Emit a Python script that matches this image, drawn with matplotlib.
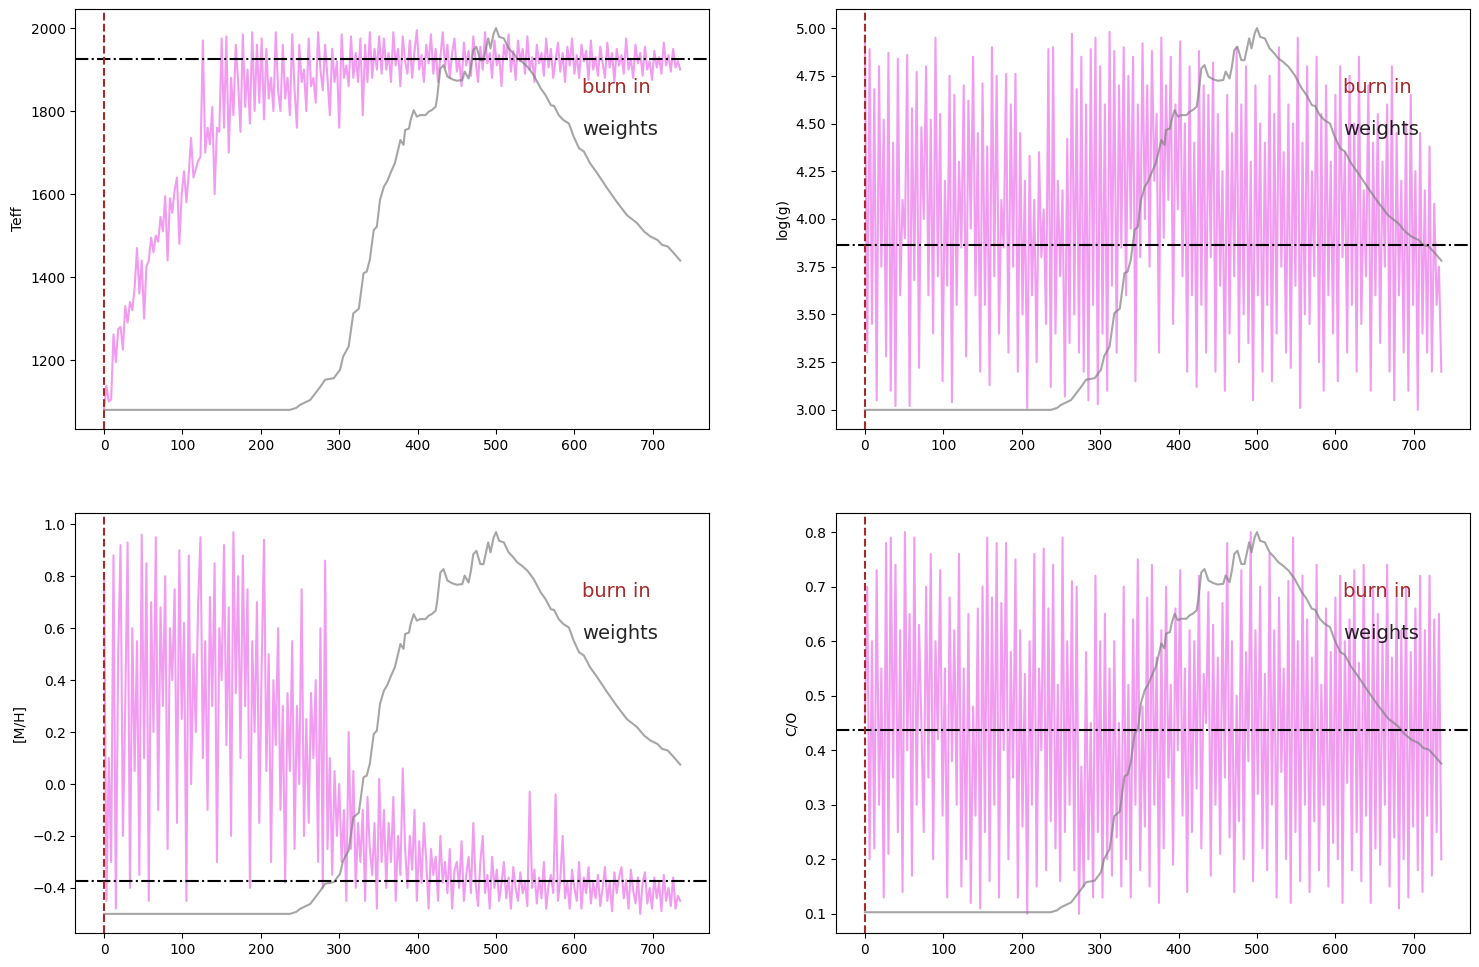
import matplotlib
matplotlib.use("Agg")
import matplotlib.pyplot as plt
import numpy as np

# chain samples, one every 3 steps
STEPS = np.arange(0, 736, 3)

TEFF = [
    1082, 1138, 1100, 1105, 1262, 1195, 1275, 1280, 1225, 1330,
    1290, 1340, 1320, 1375, 1470, 1360, 1440, 1300, 1425, 1440,
    1495, 1460, 1500, 1485, 1545, 1510, 1595, 1440, 1590, 1555,
    1610, 1640, 1480, 1600, 1655, 1580, 1650, 1735, 1640, 1660,
    1680, 1690, 1970, 1700, 1760, 1720, 1810, 1600, 1760, 1750,
    1975, 1760, 1980, 1700, 1880, 1790, 1960, 1870, 1750, 1985,
    1810, 1900, 1770, 1990, 1800, 1960, 1820, 1975, 1780, 1950,
    1830, 1880, 1800, 1990, 1850, 1800, 1960, 1830, 1880, 1790,
    1985, 1850, 1760, 1960, 1870, 1900, 1800, 1975, 1860, 1880,
    1820, 1990, 1900, 1850, 1960, 1880, 1790, 1950, 1870, 1920,
    1760, 1985, 1880, 1910, 1860, 1980, 1880, 1940, 1870, 1975,
    1790, 1960, 1870, 1990, 1880, 1950, 1900, 1980,
    1890, 1975, 1900, 1940, 1870, 1990, 1910, 1950, 1860, 1980,
    1920, 1890, 1970, 1880, 1945, 1995, 1900, 1935, 1870, 1960,
    1915, 1985, 1890, 1950, 1870, 1930, 1990, 1905, 1960, 1880,
    1940, 1975, 1895, 1925, 1860, 1965, 1910, 1945, 1885, 1980,
    1920, 1870, 1955, 1900, 1990, 1915, 1940, 1880, 1970, 1910,
    1935, 1860, 1960, 1925, 1985, 1895, 1945, 1875, 1970, 1920,
    1950, 1890, 1980, 1900, 1930, 1870, 1960, 1915, 1940, 1885,
    1975, 1905, 1950, 1880, 1925, 1965, 1895, 1940, 1870, 1955,
    1910, 1975, 1890, 1935, 1880, 1960, 1920, 1945, 1875, 1970,
    1900, 1930, 1885, 1955, 1915, 1880, 1965, 1905, 1940, 1870,
    1950, 1910, 1935, 1890, 1975, 1900, 1925, 1880, 1960, 1915,
    1940, 1885, 1955, 1900, 1920, 1875, 1945, 1905, 1930, 1890,
    1965, 1910, 1935, 1895, 1950, 1905, 1920, 1900,
]

LOGG = [
    4.96, 3.30, 4.89, 3.45, 4.68, 3.05, 4.80, 3.75, 4.52, 3.28,
    4.87, 3.10, 4.40, 3.02, 4.84, 3.60, 4.10, 3.90, 4.86, 3.02,
    4.58, 3.68, 4.77, 3.22, 4.48, 4.00, 4.80, 3.60, 4.52, 3.40,
    4.95, 3.70, 4.55, 3.15, 4.20, 3.65, 4.75, 3.04, 4.65, 3.55,
    4.30, 3.85, 4.70, 3.28, 4.62, 3.95, 4.85, 3.60, 4.45, 3.20,
    4.71, 3.55, 4.38, 3.13, 4.90, 3.70, 4.75, 3.40, 4.10, 3.85,
    4.76, 3.30, 4.60, 3.75, 4.76, 3.20, 4.45, 3.50, 4.20, 3.01,
    4.33, 3.60, 4.10, 3.25, 4.35, 3.80, 4.05, 3.45, 4.89, 3.12,
    4.90, 3.40, 4.20, 3.70, 4.15, 3.07, 4.42, 3.35, 4.97, 3.50,
    4.68, 3.30, 4.85, 3.20, 4.60, 3.05, 4.89, 3.55, 4.95, 3.03,
    4.80, 3.40, 4.60, 3.10, 4.98, 3.65, 4.88, 3.30, 4.70, 3.85,
    4.90, 3.60, 4.75, 3.95, 4.85, 3.15, 4.60, 3.80, 4.92, 4.00,
    4.70, 3.75, 4.88, 4.20, 4.55, 3.30, 4.95, 3.90, 4.70, 4.10,
    4.85, 3.45, 4.60, 4.05, 4.93, 3.70, 4.50, 3.20, 4.80, 3.60,
    4.40, 3.12, 4.88, 3.55, 4.70, 3.30, 4.65, 3.80, 4.82, 3.20,
    4.55, 3.65, 4.25, 3.10, 4.65, 3.40, 4.45, 3.70, 4.90, 3.25,
    4.60, 3.50, 4.80, 3.35, 4.30, 3.05, 4.70, 3.60, 4.50, 3.20,
    4.40, 3.55, 4.75, 3.15, 4.55, 3.40, 4.90, 3.75, 4.35, 3.30,
    4.60, 3.22, 4.50, 3.65, 4.95, 3.01, 4.40, 3.50, 4.80, 3.45,
    4.25, 3.70, 4.85, 3.25, 4.55, 3.10, 4.70, 3.60, 4.30, 3.40,
    4.65, 3.15, 4.80, 3.80, 4.35, 3.30, 4.75, 3.55, 4.50, 3.20,
    4.85, 3.45, 4.15, 3.70, 4.70, 3.10, 4.40, 3.60, 4.55, 3.35,
    4.30, 3.75, 4.60, 3.20, 4.80, 3.05, 4.45, 3.60, 4.20, 3.30,
    4.50, 3.10, 4.65, 3.55, 4.25, 3.00, 4.45, 3.40, 4.15, 3.30,
    4.38, 3.20, 4.08, 3.55, 3.75, 3.20,
]

METAL = [
    0.80, -0.45, 0.10, -0.30, 0.88, -0.48, 0.50, 0.92, -0.20, 0.30,
    0.93, -0.40, 0.60, 0.05, 0.55, -0.35, 0.96, 0.10, 0.85, -0.45,
    0.70, 0.20, 0.95, -0.10, 0.68, 0.30, 0.80, -0.25, 0.60, 0.40,
    0.75, -0.15, 0.90, 0.25, 0.62, -0.45, 0.88, 0.00, 0.50, 0.20,
    0.70, 0.95, 0.10, 0.55, -0.10, 0.72, 0.30, 0.85, -0.30, 0.60,
    0.40, 0.92, 0.15, 0.68, -0.20, 0.97, 0.35, 0.80, 0.10, 0.88,
    0.30, 0.75, -0.40, 0.55, 0.20, 0.70, -0.15, 0.45, 0.94, 0.05,
    0.50, -0.30, 0.40, 0.15, 0.60, -0.10, 0.30, -0.38, 0.35, 0.05,
    0.55, -0.25, 0.30, 0.00, 0.75, -0.20, 0.25, -0.15, 0.35, 0.10,
    0.40, -0.30, 0.60, -0.40, 0.86, -0.25, 0.10, -0.35, 0.05, -0.20,
    0.00, -0.30, -0.10, -0.45, 0.20, -0.25, 0.05, -0.40, -0.15, -0.30,
    -0.10, -0.45, -0.05, -0.25, -0.35, -0.15, -0.48, 0.02, -0.30, -0.10,
    -0.40, -0.15, -0.30, -0.05, -0.45, -0.20, -0.35, 0.06, -0.25, -0.40,
    -0.20, -0.33, -0.10, -0.45, -0.22, -0.38, -0.15, -0.30, -0.48, -0.25,
    -0.35, -0.28, -0.45, -0.20, -0.38, -0.30, -0.42, -0.25, -0.48, -0.33,
    -0.30, -0.40, -0.22, -0.45, -0.35, -0.28, -0.42, -0.15, -0.38, -0.47,
    -0.30, -0.20, -0.42, -0.35, -0.48, -0.28, -0.40, -0.33, -0.45, -0.38,
    -0.30, -0.44, -0.36, -0.48, -0.32, -0.40, -0.45, -0.34, -0.42, -0.38,
    -0.47, -0.03, -0.40, -0.33, -0.46, -0.36, -0.44, -0.30, -0.48, -0.39,
    -0.35, -0.42, -0.04, -0.45, -0.37, -0.20, -0.44, -0.38, -0.48, -0.33,
    -0.40, -0.45, -0.30, -0.48, -0.36, -0.42, -0.32, -0.46, -0.38, -0.44,
    -0.35, -0.47, -0.40, -0.32, -0.45, -0.38, -0.49, -0.34, -0.42, -0.36,
    -0.32, -0.44, -0.37, -0.48, -0.33, -0.41, -0.46, -0.36, -0.50, -0.38,
    -0.34, -0.46, -0.40, -0.48, -0.36, -0.44, -0.38, -0.49, -0.35, -0.45,
    -0.40, -0.47, -0.36, -0.48, -0.43, -0.45,
]

CO = [
    0.45, 0.70, 0.20, 0.60, 0.22, 0.73, 0.30, 0.55, 0.13, 0.78,
    0.21, 0.79, 0.35, 0.74, 0.25, 0.62, 0.14, 0.80, 0.40, 0.65,
    0.17, 0.79, 0.30, 0.63, 0.45, 0.25, 0.70, 0.35, 0.76, 0.20,
    0.60, 0.42, 0.73, 0.28, 0.55, 0.13, 0.68, 0.38, 0.62, 0.30,
    0.76, 0.15, 0.55, 0.20, 0.65, 0.12, 0.48, 0.28, 0.66, 0.11,
    0.70, 0.25, 0.79, 0.16, 0.68, 0.30, 0.78, 0.13, 0.67, 0.40,
    0.78, 0.20, 0.58, 0.35, 0.75, 0.13, 0.62, 0.26, 0.54, 0.10,
    0.60, 0.30, 0.76, 0.15, 0.55, 0.40, 0.77, 0.18, 0.66, 0.27,
    0.74, 0.22, 0.52, 0.16, 0.79, 0.25, 0.60, 0.30, 0.71, 0.18,
    0.70, 0.10, 0.37, 0.15, 0.58, 0.20, 0.45, 0.13, 0.72, 0.25,
    0.60, 0.13, 0.65, 0.20, 0.55, 0.17, 0.60, 0.24, 0.45, 0.15,
    0.70, 0.20, 0.52, 0.13, 0.64, 0.30, 0.75, 0.18, 0.48, 0.26,
    0.68, 0.15, 0.74, 0.30, 0.57, 0.12, 0.62, 0.22, 0.70, 0.35,
    0.52, 0.19, 0.66, 0.40, 0.73, 0.28, 0.55, 0.14, 0.62, 0.25,
    0.60, 0.33, 0.72, 0.22, 0.54, 0.45, 0.69, 0.17, 0.63, 0.30,
    0.57, 0.21, 0.67, 0.35, 0.78, 0.24, 0.60, 0.14, 0.50, 0.27,
    0.73, 0.20, 0.58, 0.38, 0.80, 0.16, 0.62, 0.32, 0.70, 0.22,
    0.54, 0.18, 0.76, 0.30, 0.62, 0.13, 0.68, 0.36, 0.55, 0.20,
    0.71, 0.12, 0.79, 0.25, 0.60, 0.16, 0.72, 0.30, 0.64, 0.14,
    0.57, 0.27, 0.74, 0.18, 0.52, 0.30, 0.66, 0.15, 0.58, 0.23,
    0.68, 0.20, 0.72, 0.12, 0.60, 0.34, 0.64, 0.18, 0.73, 0.25,
    0.56, 0.16, 0.74, 0.28, 0.62, 0.12, 0.70, 0.22, 0.65, 0.19,
    0.60, 0.30, 0.74, 0.15, 0.57, 0.24, 0.68, 0.11, 0.62, 0.20,
    0.70, 0.13, 0.58, 0.26, 0.66, 0.18, 0.72, 0.14, 0.62, 0.28,
    0.72, 0.17, 0.64, 0.25, 0.65, 0.20,
]

# sample weights (fraction of peak), same for every panel
WEIGHT_STEPS = [
    0, 237, 245, 250, 263, 276, 282, 293, 301, 305,
    312, 318, 325, 331, 335, 339, 344, 348, 352, 357,
    361, 367, 371, 376, 378, 382, 384, 389, 391, 395,
    399, 403, 410, 414, 418, 423, 425, 429, 433, 438,
    444, 450, 457, 460, 465, 468, 471, 475, 480, 484,
    490, 493, 497, 500, 504, 510, 516, 522, 527, 533,
    540, 548, 557, 563, 570, 574, 580, 586, 593, 599,
    606, 612, 620, 629, 642, 654, 667, 680, 689, 697,
    706, 712, 719, 727, 735,
]
WEIGHT_FRAC = [
    0.0, 0.0, 0.005, 0.013, 0.026, 0.061, 0.079, 0.083, 0.105, 0.14,
    0.166, 0.253, 0.265, 0.358, 0.362, 0.393, 0.471, 0.48, 0.55, 0.585,
    0.598, 0.628, 0.646, 0.689, 0.707, 0.694, 0.733, 0.737, 0.759, 0.785,
    0.768, 0.772, 0.772, 0.781, 0.785, 0.794, 0.82, 0.894, 0.903, 0.873,
    0.866, 0.862, 0.864, 0.886, 0.868, 0.899, 0.942, 0.951, 0.916, 0.916,
    0.973, 0.947, 0.986, 1.0, 0.977, 0.973, 0.947, 0.934, 0.921, 0.912,
    0.899, 0.877, 0.842, 0.825, 0.798, 0.796, 0.772, 0.759, 0.75, 0.716,
    0.685, 0.677, 0.646, 0.62, 0.58, 0.545, 0.51, 0.489, 0.467, 0.454,
    0.445, 0.432, 0.428, 0.41, 0.391,
]

LABELS = ["Teff", "log(g)", "[M/H]", "C/O"]
CHAINS = [TEFF, LOGG, METAL, CO]
BEST = [1926, 3.864, -0.373, 0.4377]
W_LOW = [1080, 3.0, -0.5, 0.103]
W_HIGH = [2000, 5.0, 0.97, 0.8]
BURN_IN = 0

AX_POS = [
    [0.0509, 0.5564, 0.4285, 0.4343],
    [0.5653, 0.5564, 0.4287, 0.4343],
    [0.0509, 0.0352, 0.4285, 0.4343],
    [0.5653, 0.0352, 0.4287, 0.4343],
]


def main() -> None:
    fig = plt.figure(figsize=(14.79, 9.67), dpi=100)
    wsteps = np.array(WEIGHT_STEPS)
    wfrac = np.array(WEIGHT_FRAC)
    for i, label in enumerate(LABELS):
        ax = fig.add_axes(AX_POS[i])
        ax.plot(STEPS, CHAINS[i], color="violet", alpha=0.8, lw=1.5)
        wvals = W_LOW[i] + wfrac * (W_HIGH[i] - W_LOW[i])
        ax.plot(wsteps, wvals, color="gray", alpha=0.7, lw=1.5)
        ax.axhline(BEST[i], color="k", ls="-.", lw=1.5)
        ax.axvline(BURN_IN, color="brown", ls="--", lw=1.5)
        ax.text(0.80, 0.814, "burn in", color="brown", fontsize=14,
                va="center", ha="left", transform=ax.transAxes)
        ax.text(0.80, 0.714, "weights", color="k", alpha=0.85, fontsize=14,
                va="center", ha="left", transform=ax.transAxes)
        ax.set_ylabel(label)
    fig.savefig("out.png", dpi=100)


if __name__ == "__main__":
    main()
